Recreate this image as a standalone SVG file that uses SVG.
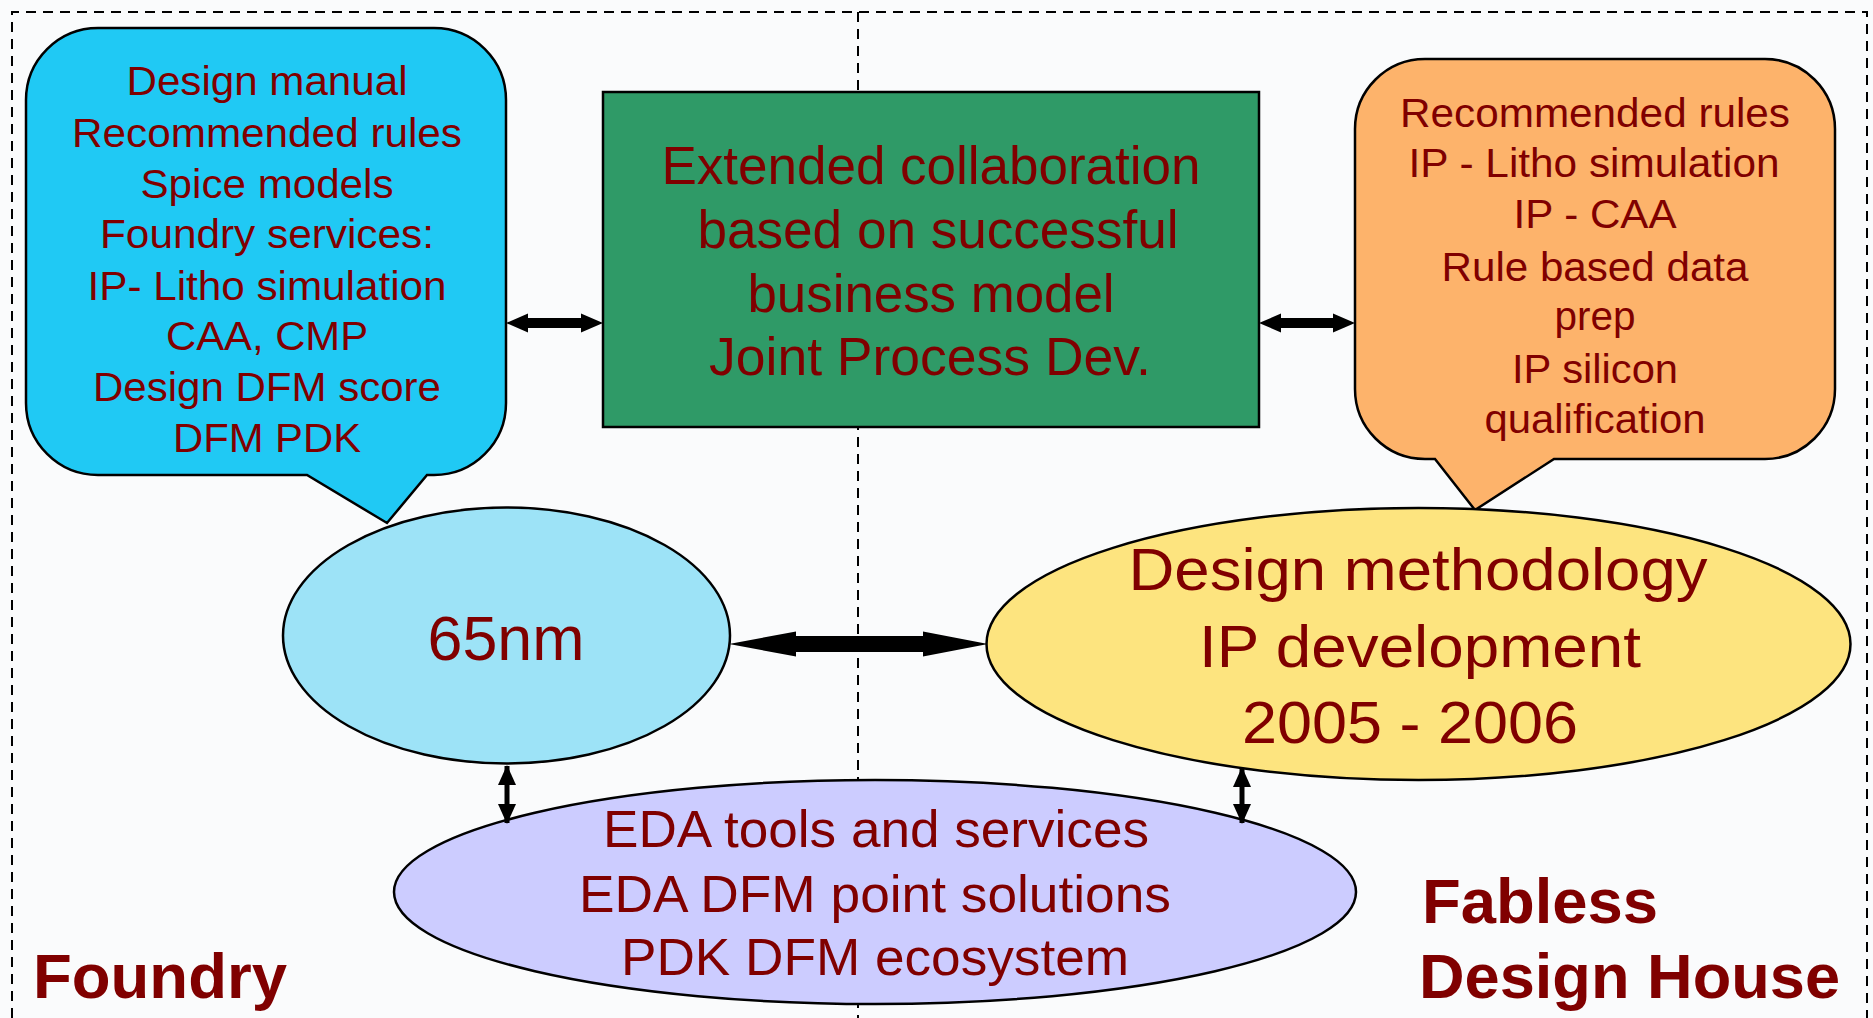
<svg xmlns="http://www.w3.org/2000/svg" width="1873" height="1018" viewBox="0 0 1873 1018">
<defs>
<style>
.t{font-family:"Liberation Sans",Arial,sans-serif;fill:#800000;text-anchor:middle;}
.s40{font-size:40px;}
.s54{font-size:54px;}
.s60{font-size:60px;}
.s52{font-size:52px;}
.lab{font-family:"Liberation Sans",Arial,sans-serif;fill:#800000;font-weight:bold;font-size:63px;}
.shape{stroke:#000;stroke-width:2.5;}
.dash{fill:none;stroke:#000;stroke-width:2;stroke-dasharray:10 7;}
.blk{fill:#000;}
</style>
<marker id="ah" viewBox="0 0 20 18" refX="19" refY="9" markerWidth="20" markerHeight="18" markerUnits="userSpaceOnUse" orient="auto-start-reverse">
<path d="M0,0 L20,9 L0,18 Z" fill="#000"/>
</marker>
</defs>
<rect x="0" y="0" width="1873" height="1018" fill="#fafbfc"/>
<g id="frame">
<path class="dash" d="M12,1018 V12 H1867 V1018"/>
<line class="dash" x1="858" y1="12" x2="858" y2="1018" stroke-width="1.8"/>
</g>
<g id="foundry-callout">
<path class="shape" fill="#20c9f4" d="M98,28 H434 A72 72 0 0 1 506 100 V403 A72 72 0 0 1 434 475 H427 L387 523 L307 475 H98 A72 72 0 0 1 26 403 V100 A72 72 0 0 1 98 28 Z"/>
<text class="t s40" x="267" y="95" textLength="281" lengthAdjust="spacingAndGlyphs">Design manual</text>
<text class="t s40" x="267" y="147" textLength="390" lengthAdjust="spacingAndGlyphs">Recommended rules</text>
<text class="t s40" x="267" y="198" textLength="253" lengthAdjust="spacingAndGlyphs">Spice models</text>
<text class="t s40" x="267" y="248" textLength="334" lengthAdjust="spacingAndGlyphs">Foundry services:</text>
<text class="t s40" x="267" y="300" textLength="359" lengthAdjust="spacingAndGlyphs">IP- Litho simulation</text>
<text class="t s40" x="267" y="350" textLength="202" lengthAdjust="spacingAndGlyphs">CAA, CMP</text>
<text class="t s40" x="267" y="401" textLength="348" lengthAdjust="spacingAndGlyphs">Design DFM score</text>
<text class="t s40" x="267" y="452" textLength="188" lengthAdjust="spacingAndGlyphs">DFM PDK</text>
</g>
<g id="collab-box">
<rect class="shape" x="603" y="92" width="656" height="335" fill="#2f9a67"/>
<text class="t s54" x="931" y="184" textLength="539" lengthAdjust="spacingAndGlyphs">Extended collaboration</text>
<text class="t s54" x="938" y="248" textLength="481" lengthAdjust="spacingAndGlyphs">based on successful</text>
<text class="t s54" x="931" y="312" textLength="367" lengthAdjust="spacingAndGlyphs">business model</text>
<text class="t s54" x="930" y="375" textLength="442" lengthAdjust="spacingAndGlyphs">Joint Process Dev.</text>
</g>
<g id="fabless-callout">
<path class="shape" fill="#fdb36b" d="M1425,59 H1765 A70 70 0 0 1 1835 129 V389 A70 70 0 0 1 1765 459 H1554 L1475 510 L1435 459 H1425 A70 70 0 0 1 1355 389 V129 A70 70 0 0 1 1425 59 Z"/>
<text class="t s40" x="1595" y="127" textLength="390" lengthAdjust="spacingAndGlyphs">Recommended rules</text>
<text class="t s40" x="1594" y="177" textLength="371" lengthAdjust="spacingAndGlyphs">IP - Litho simulation</text>
<text class="t s40" x="1595" y="228" textLength="163" lengthAdjust="spacingAndGlyphs">IP - CAA</text>
<text class="t s40" x="1595" y="281" textLength="307" lengthAdjust="spacingAndGlyphs">Rule based data</text>
<text class="t s40" x="1595" y="330" textLength="81" lengthAdjust="spacingAndGlyphs">prep</text>
<text class="t s40" x="1595" y="383" textLength="166" lengthAdjust="spacingAndGlyphs">IP silicon</text>
<text class="t s40" x="1595" y="433" textLength="221" lengthAdjust="spacingAndGlyphs">qualification</text>
</g>
<g id="node-65nm">
<ellipse class="shape" cx="506.5" cy="635.5" rx="223.5" ry="128" fill="#9de3f7"/>
<text class="t" style="font-size:63px" x="506" y="660" textLength="157" lengthAdjust="spacingAndGlyphs">65nm</text>
</g>
<g id="node-design">
<ellipse class="shape" cx="1418.5" cy="644" rx="432" ry="136" fill="#fde47f"/>
<text class="t s60" x="1418" y="590" textLength="579" lengthAdjust="spacingAndGlyphs">Design methodology</text>
<text class="t s60" x="1420" y="667" textLength="442" lengthAdjust="spacingAndGlyphs">IP development</text>
<text class="t s60" x="1410" y="743" textLength="336" lengthAdjust="spacingAndGlyphs">2005 - 2006</text>
</g>
<g id="node-eda">
<ellipse class="shape" cx="875" cy="892" rx="481" ry="112" fill="#ccccff"/>
<text class="t s52" x="876" y="847" textLength="546" lengthAdjust="spacingAndGlyphs">EDA tools and services</text>
<text class="t s52" x="875" y="912" textLength="592" lengthAdjust="spacingAndGlyphs">EDA DFM point solutions</text>
<text class="t s52" x="875" y="975" textLength="508" lengthAdjust="spacingAndGlyphs">PDK DFM ecosystem</text>
</g>
<g id="connectors">
<polygon class="blk" points="506,323 528,313.5 528,318 581,318 581,313.5 603,323 581,332.5 581,328 528,328 528,332.5"/>
<polygon class="blk" points="1259,323 1281,313.5 1281,318 1333,318 1333,313.5 1355,323 1333,332.5 1333,328 1281,328 1281,332.5"/>
<polygon class="blk" points="729,644 796,631.5 796,636 923,636 923,631.5 988,644 923,656.5 923,652 796,652 796,656.5"/>
<line x1="507" y1="766" x2="507" y2="823" stroke="#000" stroke-width="5" marker-start="url(#ah)" marker-end="url(#ah)"/>
<line x1="1242" y1="768" x2="1242" y2="823" stroke="#000" stroke-width="5" marker-start="url(#ah)" marker-end="url(#ah)"/>
</g>
<g id="labels">
<text class="lab" x="33" y="998" textLength="254" lengthAdjust="spacingAndGlyphs">Foundry</text>
<text class="lab" x="1422" y="923" textLength="236" lengthAdjust="spacingAndGlyphs">Fabless</text>
<text class="lab" x="1419" y="998" textLength="421" lengthAdjust="spacingAndGlyphs">Design House</text>
</g>
</svg>
